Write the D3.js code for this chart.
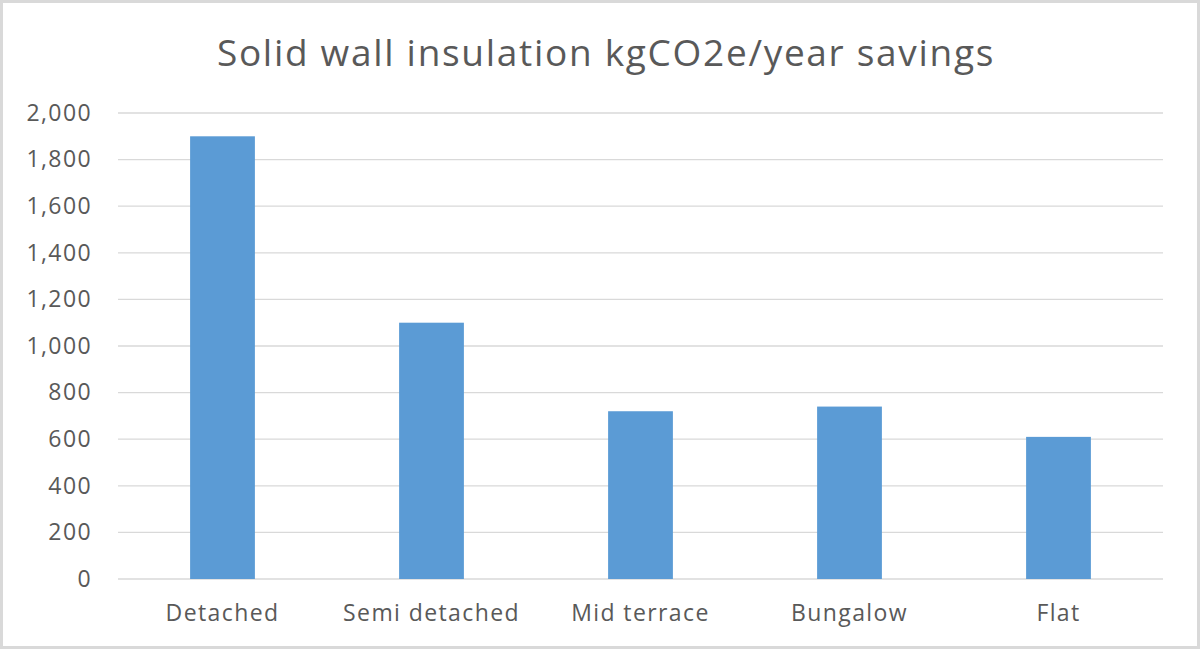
<!DOCTYPE html>
<html>
<head>
<meta charset="utf-8">
<script src="https://cdn.jsdelivr.net/npm/d3@7"></script>
<style>
  body { margin: 0; background: #fff; }
  text { font-family: "Open Sans", "Noto Sans", sans-serif; fill: #595959; }
</style>
</head>
<body>
<script>
// chart values
const categories = ["Detached", "Semi detached", "Mid terrace", "Bungalow", "Flat"];
const savings = [1900, 1100, 720, 740, 610];
const yTicks = [0, 200, 400, 600, 800, 1000, 1200, 1400, 1600, 1800, 2000];
const title = "Solid wall insulation kgCO2e/year savings";

const W = 1200, H = 649;
const margin = { top: 113, right: 37, bottom: 70, left: 118 };
const width = W - margin.left - margin.right;
const height = 579 - margin.top;

const svg = d3.select("body").append("svg")
    .attr("width", W)
    .attr("height", H);

// outer frame
svg.append("rect")
    .attr("x", 1.5).attr("y", 1.5)
    .attr("width", W - 3).attr("height", H - 3)
    .attr("fill", "#fff")
    .attr("stroke", "#d9d9d9")
    .attr("stroke-width", 3);

svg.append("text")
    .attr("x", 606)
    .attr("y", 66)
    .attr("text-anchor", "middle")
    .style("font-size", "37px")
    .style("letter-spacing", "1.7px")
    .text(title);

const g = svg.append("g")
    .attr("transform", "translate(" + margin.left + "," + margin.top + ")");

const x = d3.scaleBand()
    .domain(categories)
    .range([0, width])
    .paddingInner(0.69)
    .paddingOuter(0.345);

const y = d3.scaleLinear()
    .domain([0, 2000])
    .range([height, 0]);

// gridlines
g.selectAll(".grid")
    .data(yTicks)
    .enter()
    .append("line")
    .attr("class", "grid")
    .attr("x1", 0)
    .attr("x2", width)
    .attr("y1", d => y(d))
    .attr("y2", d => y(d))
    .attr("stroke", "#d9d9d9")
    .attr("stroke-width", 1.3);

// y axis labels
const yAxis = d3.axisLeft(y)
    .tickValues(yTicks)
    .tickFormat(d3.format(","))
    .tickSize(0)
    .tickPadding(26);

g.append("g")
    .call(yAxis)
    .call(a => a.select(".domain").remove())
    .selectAll("text")
    .style("font-size", "23px")
    .style("letter-spacing", "1.4px")
    .attr("fill", "#595959");

// bars
g.selectAll(".bar")
    .data(savings)
    .enter()
    .append("rect")
    .attr("class", "bar")
    .attr("x", (d, i) => x(categories[i]))
    .attr("y", d => y(d))
    .attr("width", x.bandwidth())
    .attr("height", d => height - y(d))
    .attr("fill", "#5b9bd5");

// x axis labels
const xAxis = d3.axisBottom(x)
    .tickSize(0)
    .tickPadding(26);

g.append("g")
    .attr("transform", "translate(0," + height + ")")
    .call(xAxis)
    .call(a => a.select(".domain").remove())
    .selectAll("text")
    .style("font-size", "23px")
    .style("letter-spacing", "1.4px")
    .attr("fill", "#595959");
</script>
</body>
</html>
